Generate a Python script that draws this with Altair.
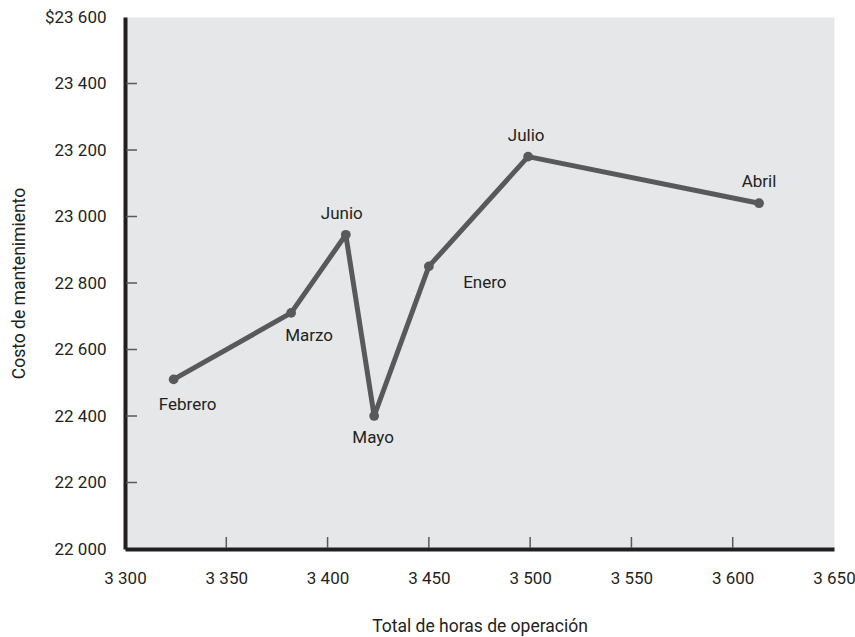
import altair as alt
import pandas as pd

# Monthly operating hours and maintenance cost
months = ["Enero", "Febrero", "Marzo", "Abril", "Mayo", "Junio", "Julio"]
hours = [3450, 3324, 3382, 3613, 3423, 3409, 3499]
cost = [22850, 22510, 22710, 23040, 22400, 22945, 23180]

# Axis ticks and their printed labels
x_ticks = [3300, 3350, 3400, 3450, 3500, 3550, 3600, 3650]
x_tick_labels = ["3 300", "3 350", "3 400", "3 450", "3 500", "3 550", "3 600", "3 650"]
y_ticks = [22000, 22200, 22400, 22600, 22800, 23000, 23200, 23400, 23600]
y_tick_labels = ["22 000", "22 200", "22 400", "22 600", "22 800",
                 "23 000", "23 200", "23 400", "$23 600"]

df = pd.DataFrame({"mes": months, "horas": hours, "costo": cost})
x_tick_df = pd.DataFrame({"horas": x_ticks[1:-1]})
y_tick_df = pd.DataFrame({"costo": y_ticks[1:-1]})

W, H = 709, 532
FONT = "Roboto"
FS = 17
FS_TITLE = 17.5
INK = "#231f20"
LINE = "#58595b"

# label offsets (dx, dy) around each point
LABEL_OFFSETS = {
    "Febrero": (14, 26),
    "Marzo": (18, 23),
    "Junio": (-4, -21),
    "Mayo": (-1, 22),
    "Enero": (56, 17),
    "Julio": (-2, -21),
    "Abril": (0, -21),
}


def label_expr(values, labels):
    return f"{labels}[indexof({values}, datum.value)]"


x_scale = alt.Scale(domain=[x_ticks[0], x_ticks[-1]], nice=False, zero=False)
y_scale = alt.Scale(domain=[y_ticks[0], y_ticks[-1]], nice=False, zero=False)

x_axis = alt.Axis(
    values=x_ticks, labelExpr=label_expr(x_ticks, x_tick_labels),
    ticks=False, grid=False, domainColor=INK, domainWidth=4,
    labelFont=FONT, labelFontSize=FS, labelColor=INK, labelPadding=21,
    labelOverlap=False, labelFlush=False,
    title="Total de horas de operación", titleFont=FONT, titleFontSize=FS_TITLE,
    titleFontWeight="normal", titleColor=INK, titleY=77, titleBaseline="middle",
)
y_axis = alt.Axis(
    values=y_ticks, labelExpr=label_expr(y_ticks, y_tick_labels),
    ticks=False, grid=False, domainColor=INK, domainWidth=4,
    labelFont=FONT, labelFontSize=FS, labelColor=INK, labelPadding=19,
    labelOverlap=False, labelFlush=False,
    title="Costo de mantenimiento", titleFont=FONT, titleFontSize=FS_TITLE,
    titleFontWeight="normal", titleColor=INK, titleX=-106, titleY=H / 2,
    titleAlign="center", titleBaseline="middle",
)

base = alt.Chart(df)

line = base.mark_line(
    color=LINE, strokeWidth=5, strokeJoin="round", strokeCap="round"
).encode(
    x=alt.X("horas:Q", scale=x_scale, axis=x_axis),
    y=alt.Y("costo:Q", scale=y_scale, axis=y_axis),
    order="horas:Q",
)
points = base.mark_circle(color=LINE, size=95, opacity=1).encode(
    x=alt.X("horas:Q", scale=x_scale),
    y=alt.Y("costo:Q", scale=y_scale),
)

labels = [
    base.transform_filter(alt.datum.mes == name)
    .mark_text(font=FONT, fontSize=FS, color=INK, align="center",
               baseline="middle", dx=dx, dy=dy)
    .encode(
        x=alt.X("horas:Q", scale=x_scale),
        y=alt.Y("costo:Q", scale=y_scale),
        text="mes:N",
    )
    for name, (dx, dy) in LABEL_OFFSETS.items()
]

# inward tick marks
x_tick_marks = alt.Chart(x_tick_df).mark_rule(color=LINE, strokeWidth=1.5).encode(
    x=alt.X("horas:Q", scale=x_scale),
    y=alt.value(H - 1),
    y2=alt.value(H - 12),
)
y_tick_marks = alt.Chart(y_tick_df).mark_rule(color=LINE, strokeWidth=1.5).encode(
    y=alt.Y("costo:Q", scale=y_scale),
    x=alt.value(1),
    x2=alt.value(12),
)

chart = alt.layer(
    x_tick_marks, y_tick_marks, line, points, *labels
).properties(
    width=W, height=H,
    autosize=alt.AutoSizeParams(type="none"),
    padding={"left": 125, "top": 17, "right": 21, "bottom": 88},
    background="white",
).configure_view(
    fill="#e6e7e8", strokeOpacity=0,
)

chart.save("out.html", embed_options={"renderer": "svg", "actions": False})
